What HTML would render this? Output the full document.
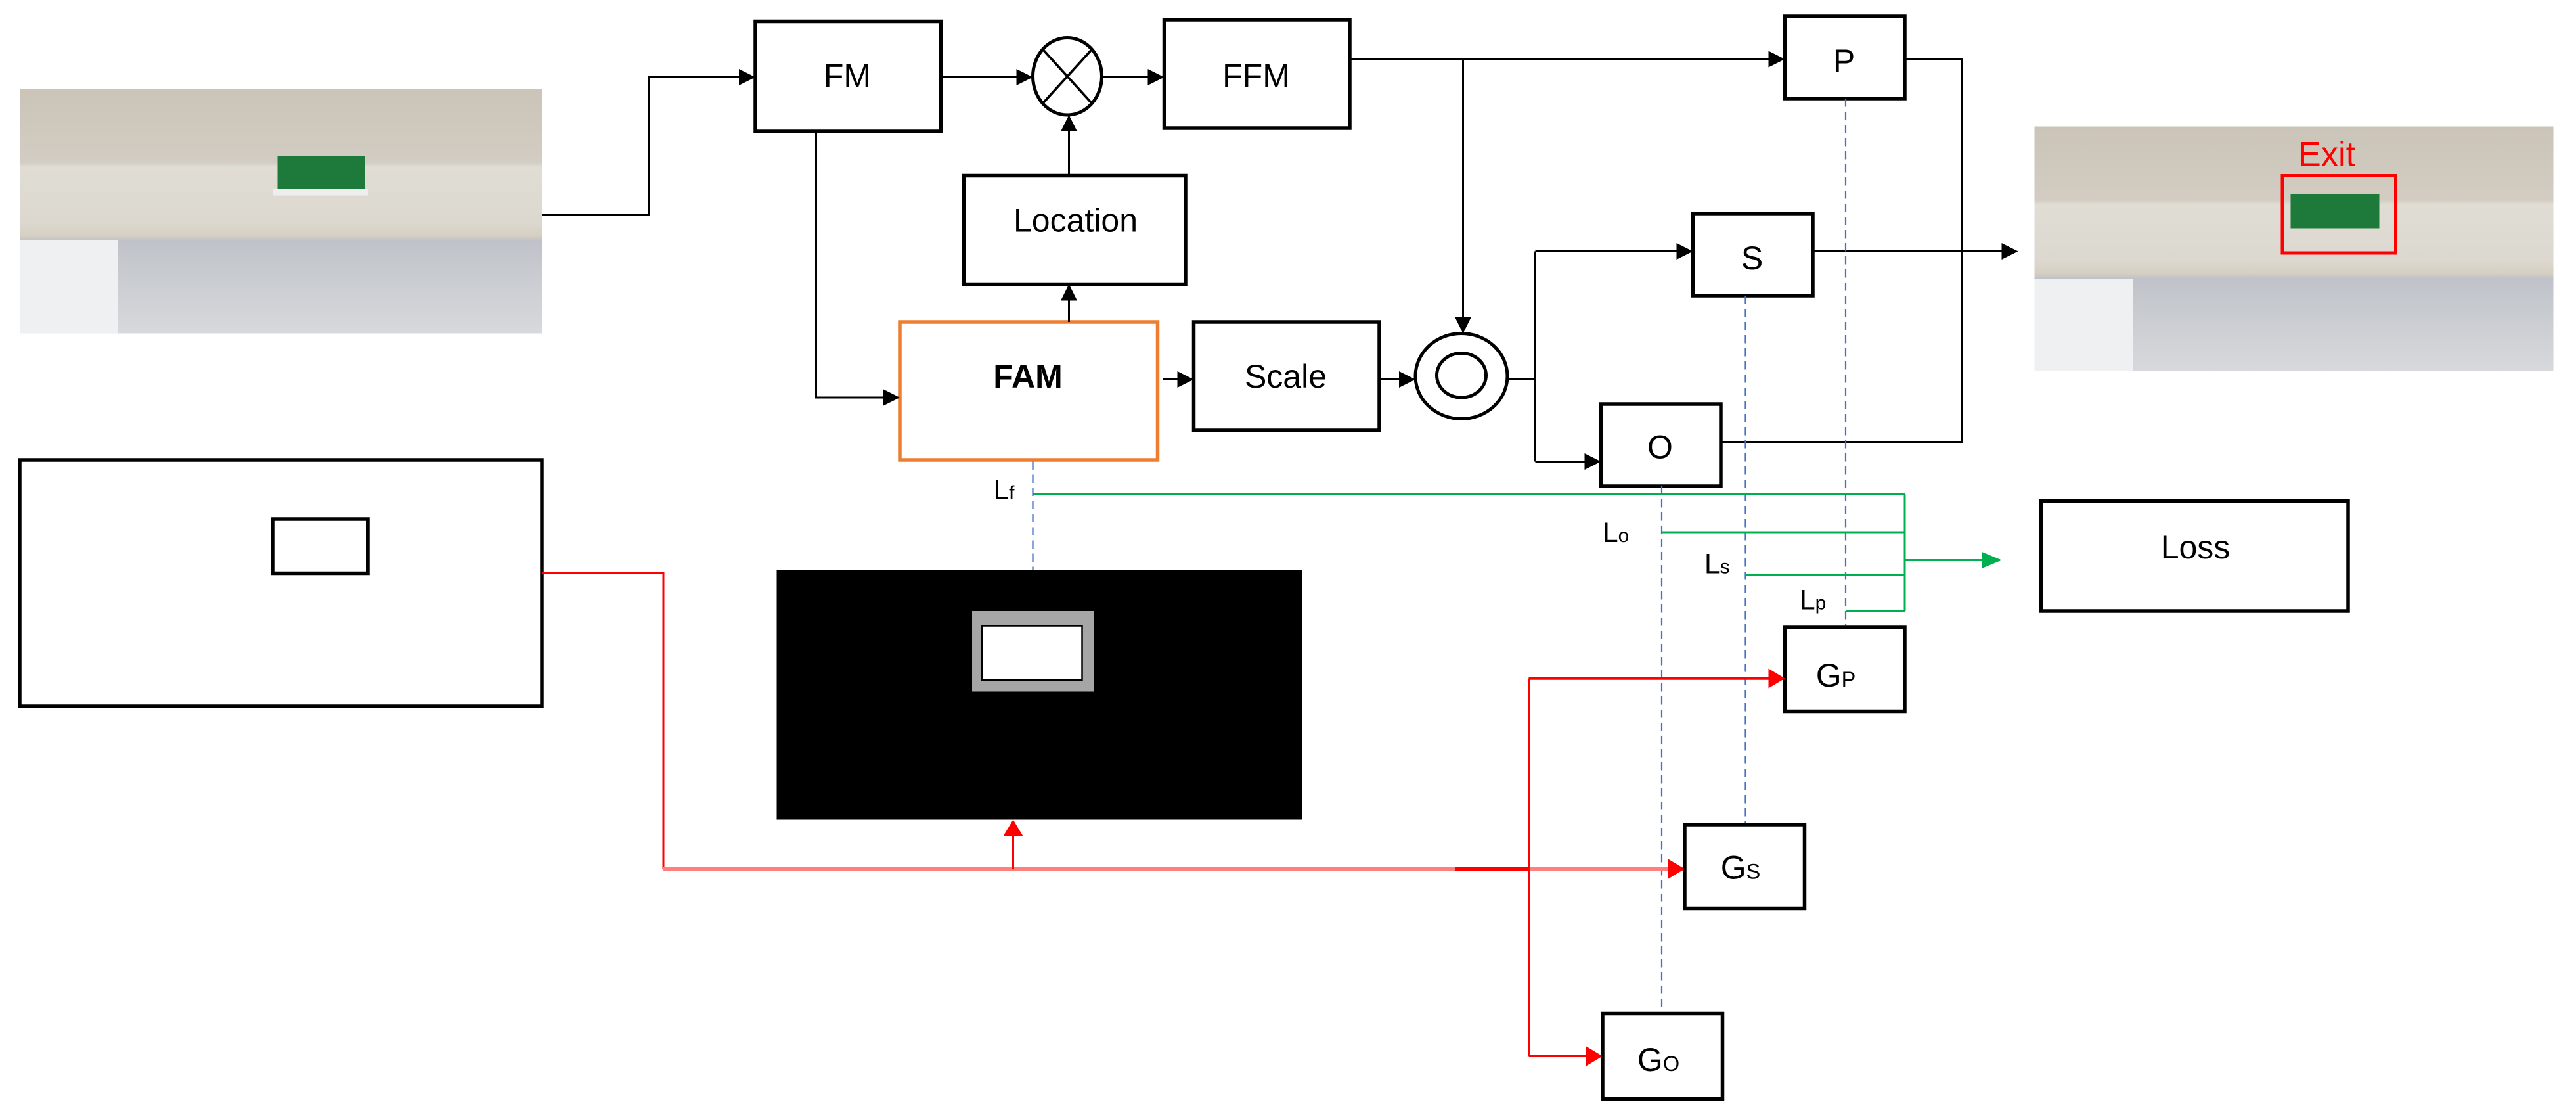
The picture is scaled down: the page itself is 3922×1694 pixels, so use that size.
<!DOCTYPE html>
<html><head><meta charset="utf-8"><style>html,body{margin:0;padding:0;background:#fff}svg{display:block}</style></head><body>
<svg width="3922" height="1694" viewBox="0 0 1568.8 677.6" preserveAspectRatio="none" xmlns="http://www.w3.org/2000/svg" font-family="Liberation Sans, sans-serif">
<defs>
<marker id="ab" markerWidth="10" markerHeight="10" refX="9" refY="5" orient="auto" markerUnits="userSpaceOnUse"><path d="M0,0 L10,5 L0,10 z" fill="#000"/></marker>
<marker id="ar" markerWidth="10" markerHeight="12" refX="9" refY="6" orient="auto" markerUnits="userSpaceOnUse"><path d="M0,0 L10,6 L0,12 z" fill="#f00"/></marker>
<marker id="ag" markerWidth="12" markerHeight="10" refX="11" refY="5" orient="auto" markerUnits="userSpaceOnUse"><path d="M0,0 L12,5 L0,10 z" fill="#00b050"/></marker>
<linearGradient id="ph" x1="0" y1="0" x2="0" y2="1">
<stop offset="0" stop-color="#cbc4b8"/><stop offset="0.3" stop-color="#d2ccc2"/><stop offset="0.32" stop-color="#e0ddd5"/><stop offset="0.55" stop-color="#dcd8cf"/><stop offset="0.6" stop-color="#d6cfc2"/><stop offset="0.62" stop-color="#bfc3c9"/><stop offset="1" stop-color="#d7d9dc"/></linearGradient>
</defs>

<!-- left photo -->
<rect x="12" y="54" width="318" height="149" fill="url(#ph)"/>
<rect x="12" y="146" width="60" height="57" fill="#eef0f2"/>
<rect x="169" y="95" width="53" height="20" fill="#1d7a3a"/>
<rect x="166" y="115" width="58" height="4" fill="#eee"/>
<!-- right photo -->
<rect x="1239" y="77" width="316" height="149" fill="url(#ph)"/>
<rect x="1239" y="170" width="60" height="56" fill="#eef0f2"/>
<rect x="1395" y="118" width="54" height="21" fill="#1d7a3a"/>
<rect x="1390" y="107" width="69" height="47" fill="none" stroke="#f00" stroke-width="2"/>
<text x="1417" y="101" font-size="21" fill="#f00" text-anchor="middle">Exit</text>

<g fill="#fff" stroke="#000" stroke-width="2.2">
<rect x="460" y="13" width="113" height="67"/>
<rect x="709" y="12" width="113" height="66"/>
<rect x="587" y="107" width="135" height="66"/>
<rect x="727" y="196" width="113" height="66"/>
<rect x="1087" y="10" width="73" height="50"/>
<rect x="1031" y="130" width="73" height="50"/>
<rect x="975" y="246" width="73" height="50"/>
<rect x="1243" y="305" width="187" height="67"/>
<rect x="1087" y="382" width="73" height="51"/>
<rect x="1026" y="502" width="73" height="51"/>
<rect x="976" y="617" width="73" height="52"/>
<rect x="12" y="280" width="318" height="150"/>
<rect x="166" y="316" width="58" height="33"/>
</g>
<rect x="548" y="196" width="157" height="84" fill="#fff" stroke="#ed7d31" stroke-width="2.2"/>

<!-- black image -->
<rect x="473" y="347" width="320" height="152" fill="#000"/>
<rect x="592" y="372" width="74" height="49" fill="#a6a6a6"/>
<rect x="598" y="381" width="61" height="33" fill="#fff" stroke="#000" stroke-width="1"/>

<!-- circles -->
<ellipse cx="650" cy="46.5" rx="21" ry="23.5" fill="#fff" stroke="#000" stroke-width="2"/>
<line x1="635" y1="30" x2="665" y2="63" stroke="#000" stroke-width="1.5"/>
<line x1="665" y1="30" x2="635" y2="63" stroke="#000" stroke-width="1.5"/>
<ellipse cx="890" cy="229" rx="28" ry="26" fill="#fff" stroke="#000" stroke-width="2"/>
<ellipse cx="890" cy="228.5" rx="15" ry="13.5" fill="none" stroke="#000" stroke-width="2"/>

<!-- black connectors -->
<g fill="none" stroke="#000" stroke-width="1.2">
<polyline points="330,131 395,131 395,47 459,47" marker-end="url(#ab)"/>
<line x1="573" y1="47" x2="628" y2="47" marker-end="url(#ab)"/>
<line x1="671" y1="47" x2="708" y2="47" marker-end="url(#ab)"/>
<line x1="651" y1="107" x2="651" y2="71" marker-end="url(#ab)"/>
<line x1="651" y1="196" x2="651" y2="174" marker-end="url(#ab)"/>
<polyline points="497,80 497,242 547,242" marker-end="url(#ab)"/>
<line x1="708" y1="231" x2="726" y2="231" marker-end="url(#ab)"/>
<line x1="840" y1="231" x2="861" y2="231" marker-end="url(#ab)"/>
<line x1="822" y1="36" x2="1086" y2="36" marker-end="url(#ab)"/>
<line x1="891" y1="36" x2="891" y2="202" marker-end="url(#ab)"/>
<line x1="918" y1="231" x2="935" y2="231"/>
<polyline points="935,153 935,281"/>
<line x1="935" y1="153" x2="1030" y2="153" marker-end="url(#ab)"/>
<line x1="935" y1="281" x2="974" y2="281" marker-end="url(#ab)"/>
<line x1="1104" y1="153" x2="1228" y2="153" marker-end="url(#ab)"/>
<polyline points="1160,36 1195,36 1195,269 1048,269"/>
</g>

<!-- blue dashed -->
<g stroke="#4472c4" stroke-width="0.9" stroke-dasharray="5,3" fill="none">
<line x1="629" y1="281" x2="629" y2="347"/>
<line x1="1124" y1="60" x2="1124" y2="381"/>
<line x1="1063" y1="180" x2="1063" y2="501"/>
<line x1="1012" y1="296" x2="1012" y2="616"/>
</g>

<!-- green -->
<g stroke="#00b050" stroke-width="1.2" fill="none">
<line x1="629" y1="301" x2="1160" y2="301"/>
<line x1="1012" y1="324" x2="1160" y2="324"/>
<line x1="1063" y1="350" x2="1160" y2="350"/>
<line x1="1124" y1="372" x2="1160" y2="372"/>
<line x1="1160" y1="301" x2="1160" y2="372"/>
<line x1="1160" y1="341" x2="1218" y2="341" marker-end="url(#ag)"/>
</g>

<!-- red -->
<g stroke="#f00" stroke-width="1.2" fill="none">
<polyline points="330,349 404,349 404,529"/>
<line x1="404" y1="529" x2="1025" y2="529" marker-end="url(#ar)" stroke="#ff7f7f" stroke-width="2"/>
<line x1="886" y1="529" x2="931" y2="529" stroke-width="2.5"/>
<line x1="617" y1="529" x2="617" y2="500" marker-end="url(#ar)"/>
<polyline points="931,643 931,413"/>
<line x1="931" y1="413" x2="1086" y2="413" marker-end="url(#ar)" stroke-width="1.8"/>
<line x1="931" y1="643" x2="975" y2="643" marker-end="url(#ar)"/>
</g>

<!-- labels -->
<g font-size="20" text-anchor="middle" fill="#000">
<text x="516" y="53">FM</text>
<text x="765" y="53">FFM</text>
<text x="655" y="141">Location</text>
<text x="626" y="236" font-weight="bold">FAM</text>
<text x="783" y="236">Scale</text>
<text x="1123" y="44">P</text>
<text x="1067" y="164">S</text>
<text x="1011" y="279">O</text>
<text x="1337" y="340">Loss</text>
<text x="1118" y="418">G<tspan font-size="13">P</tspan></text>
<text x="1060" y="535">G<tspan font-size="13">S</tspan></text>
<text x="1010" y="652">G<tspan font-size="13">O</tspan></text>
</g>
<g font-size="17" fill="#000">
<text x="605" y="304">L<tspan font-size="12">f</tspan></text>
<text x="976" y="330">L<tspan font-size="12">o</tspan></text>
<text x="1038" y="349">L<tspan font-size="12">s</tspan></text>
<text x="1096" y="371">L<tspan font-size="12">p</tspan></text>
</g>
</svg>
</body></html>
